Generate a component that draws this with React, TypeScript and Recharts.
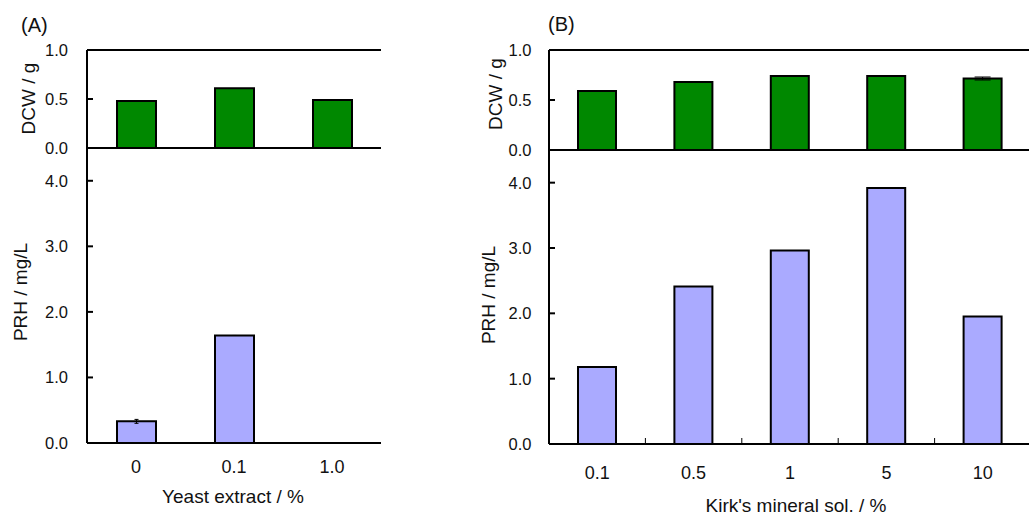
import { Bar, BarChart, ErrorBar, ReferenceLine, XAxis, YAxis } from 'recharts';

const FONT = '"Liberation Sans", Arial, Helvetica, sans-serif';
const GREEN = '#008800';
const LILAC = '#aaaaff';

// (A) yeast extract
const yeastLevels = ['0', '0.1', '1.0'];
const dcwYeast = [0.48, 0.61, 0.49];
const dcwYeastErr = [0, 0, 0];
const prhYeast = [0.33, 1.64, 0];
const prhYeastErr = [[0.03, 0.03], [0, 0], [0, 0.08]];

// (B) Kirk's mineral solution
const mineralLevels = ['0.1', '0.5', '1', '5', '10'];
const dcwMineral = [0.59, 0.68, 0.74, 0.74, 0.715];
const dcwMineralErr = [0.005, 0.003, 0.005, 0.005, 0.015];
const prhMineral = [1.18, 2.41, 2.96, 3.92, 1.95];
const prhMineralErr = [0, 0, 0, 0, 0];

const dcwTicks = [0, 0.5, 1.0];
const prhTicks = [0, 1, 2, 3, 4];

const AXIS_W = 70;
const PAD = 14;

function makeYTick(gap: number) {
  return (props: any) => {
    const { x, y, payload } = props;
    return (
      <g>
        <line x1={x + gap} x2={x + gap + 6} y1={y} y2={y} stroke="#000" strokeWidth={2} />
        <text x={x} y={y} dy="0.36em" textAnchor="end" fontSize={16.5} fontFamily={FONT} fill="#111">
          {Number(payload.value).toFixed(1)}
        </text>
      </g>
    );
  };
}

function makeXTick(offset: number, band: number, count: number, boundaries: boolean) {
  return (props: any) => {
    const { x, y, payload, index } = props;
    return (
      <g>
        {boundaries && index < count - 1 && (
          <line x1={x + band / 2} x2={x + band / 2} y1={y} y2={y - 6} stroke="#000" strokeWidth={1} />
        )}
        <text x={x} y={y + offset} dy="0.36em" textAnchor="middle" fontSize={18} fontFamily={FONT} fill="#111">
          {payload.value}
        </text>
      </g>
    );
  };
}

type PanelProps = {
  cats: string[];
  dcw: number[];
  dcwErr: number[];
  prh: number[];
  prhErr: any[];
  axisX: number;
  plotW: number;
  dcwTop: number;
  split: number;
  bottom: number;
  barSize: number;
  tickGap: number;
  xTickOffset: number;
  boundaries: boolean;
  dcwCap: number;
  prhCap: number;
};

function Panel(p: PanelProps) {
  const dcwData = p.cats.map((c, i) => ({ name: c, value: p.dcw[i], err: p.dcwErr[i] }));
  const prhData = p.cats.map((c, i) => ({ name: c, value: p.prh[i], err: p.prhErr[i] }));
  const band = p.plotW / p.cats.length;
  const width = AXIS_W + p.plotW;
  const topH = p.split - p.dcwTop;
  const botH = p.bottom - p.split;

  return (
    <>
      <div style={{ position: 'absolute', left: p.axisX - AXIS_W, top: p.split - PAD }}>
        <BarChart width={width} height={botH + PAD + 45} data={prhData} margin={{ top: PAD, right: 0, bottom: 0, left: 0 }}>
          <XAxis
            dataKey="name"
            height={45}
            tickSize={0}
            tickMargin={0}
            tickLine={false}
            axisLine={{ stroke: '#000', strokeWidth: 2 }}
            tick={makeXTick(p.xTickOffset, band, p.cats.length, p.boundaries)}
            interval={0}
          />
          <YAxis
            width={AXIS_W}
            domain={[0, 4.5]}
            ticks={prhTicks}
            interval={0}
            allowDataOverflow
            tickSize={0}
            tickMargin={p.tickGap}
            tickLine={false}
            axisLine={{ stroke: '#000', strokeWidth: 2 }}
            tick={makeYTick(p.tickGap)}
          />
          <Bar dataKey="value" fill={LILAC} stroke="#000" strokeWidth={2} barSize={p.barSize} isAnimationActive={false}>
            <ErrorBar dataKey="err" width={p.prhCap} stroke="#000" strokeWidth={1} direction="y" isAnimationActive={false} />
          </Bar>
        </BarChart>
      </div>
      <div style={{ position: 'absolute', left: p.axisX - AXIS_W, top: p.dcwTop - PAD }}>
        <BarChart width={width} height={topH + 2 * PAD} data={dcwData} margin={{ top: PAD, right: 0, bottom: PAD, left: 0 }}>
          <XAxis dataKey="name" hide />
          <YAxis
            width={AXIS_W}
            domain={[0, 1]}
            ticks={dcwTicks}
            interval={0}
            allowDataOverflow
            tickSize={0}
            tickMargin={p.tickGap}
            tickLine={false}
            axisLine={{ stroke: '#000', strokeWidth: 2 }}
            tick={makeYTick(p.tickGap)}
          />
          <Bar dataKey="value" fill={GREEN} stroke="#000" strokeWidth={2} barSize={p.barSize} isAnimationActive={false}>
            <ErrorBar dataKey="err" width={p.dcwCap} stroke="#000" strokeWidth={1} direction="y" isAnimationActive={false} />
          </Bar>
          <ReferenceLine y={1} stroke="#000" strokeWidth={2} />
          <ReferenceLine y={0} stroke="#000" strokeWidth={2} />
        </BarChart>
      </div>
    </>
  );
}

export default function App() {
  const titleStyle = { fontFamily: FONT, fill: '#111' };
  return (
    <div style={{ position: 'absolute', left: 0, top: 0, width: 1029, height: 515, overflow: 'hidden', background: '#fff' }}>
      <Panel
        cats={yeastLevels}
        dcw={dcwYeast}
        dcwErr={dcwYeastErr}
        prh={prhYeast}
        prhErr={prhYeastErr}
        axisX={87}
        plotW={294}
        dcwTop={50}
        split={148}
        bottom={443}
        barSize={39}
        tickGap={19}
        xTickOffset={23.5}
        boundaries={false}
        dcwCap={0}
        prhCap={2}
      />
      <Panel
        cats={mineralLevels}
        dcw={dcwMineral}
        dcwErr={dcwMineralErr}
        prh={prhMineral}
        prhErr={prhMineralErr}
        axisX={549}
        plotW={482}
        dcwTop={50}
        split={150}
        bottom={444}
        barSize={38}
        tickGap={17.5}
        xTickOffset={29}
        boundaries={true}
        dcwCap={8}
        prhCap={0}
      />
      <svg width={1029} height={515} style={{ position: 'absolute', left: 0, top: 0, pointerEvents: 'none' }}>
        <text x={21} y={32} fontSize={20} {...titleStyle}>(A)</text>
        <text x={548} y={31} fontSize={20} {...titleStyle}>(B)</text>
        <text x={35} y={98.5} fontSize={19} textAnchor="middle" transform="rotate(-90 35 98.5)" {...titleStyle}>DCW / g</text>
        <text x={27} y={292} fontSize={19} textAnchor="middle" transform="rotate(-90 27 292)" {...titleStyle}>PRH / mg/L</text>
        <text x={502} y={94} fontSize={19} textAnchor="middle" transform="rotate(-90 502 94)" {...titleStyle}>DCW / g</text>
        <text x={495} y={295} fontSize={19} textAnchor="middle" transform="rotate(-90 495 295)" {...titleStyle}>PRH / mg/L</text>
        <text x={233} y={503} fontSize={19} textAnchor="middle" {...titleStyle}>Yeast extract / %</text>
        <text x={796} y={512} fontSize={19} textAnchor="middle" {...titleStyle}>Kirk's mineral sol. / %</text>
      </svg>
    </div>
  );
}
